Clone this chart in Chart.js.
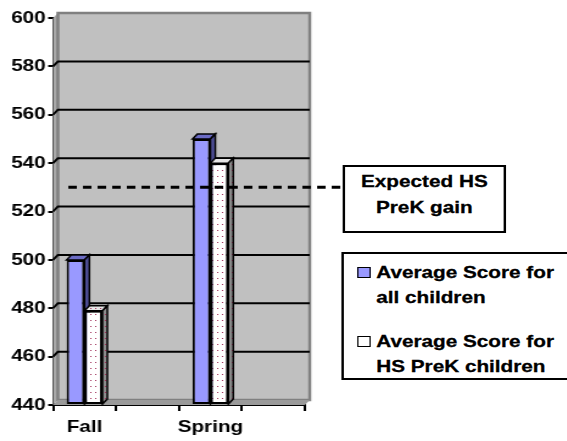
<!DOCTYPE html>
<html>
<head>
<meta charset="utf-8">
<script src="https://cdn.jsdelivr.net/npm/chart.js@4/dist/chart.umd.min.js"></script>
<style>
  html, body { margin: 0; padding: 0; background: #fff; overflow: hidden; }
  /* the original picture is stretched sideways, so draw narrow and widen */
  #wrap { position: relative; width: 465px; height: 441px; transform: scaleX(1.2194); transform-origin: 0 0;
          font-family: "Liberation Sans", Arial, sans-serif; font-weight: bold; color: #000; }
  #note { position: absolute; left: 281px; top: 165px; width: 130px; height: 62px; border: 2px solid #000; background: #fff;
          font-size: 17px; line-height: 26px; text-align: center; padding-top: 2px; -webkit-text-stroke: 0.3px #000; }
  #legend { position: absolute; left: 279.5px; top: 252px; width: 200px; height: 124px; border: 2px solid #000; background: #fff; }
  .item { position: absolute; left: 27px; font-size: 17px; line-height: 25px; white-space: nowrap; -webkit-text-stroke: 0.3px #000; }
  .box { position: absolute; left: -16px; top: 7px; width: 9px; height: 9px; border: 1.5px solid #000; }
</style>
</head>
<body>
<div id="wrap">
  <canvas id="chart"></canvas>
  <div id="note">Expected HS<br>PreK gain</div>
  <div id="legend">
    <div class="item" style="top:6px"><span class="box" style="background:#9999ff"></span>Average Score for<br>all children</div>
    <div class="item" style="top:75px"><span class="box" id="box2" style="background:#fff"></span>Average Score for<br>HS PreK children</div>
  </div>
</div>
<script>
const seasons = ['Fall', '', 'Spring', ''];
const allChildren = [500, null, 550, null];
const hsPrekChildren = [479, null, 540, null];
const expectedGain = 530;
const yTicks = [440, 460, 480, 500, 520, 540, 560, 580, 600];

// little dotted fill for the HS PreK bars
function dots(bg) {
  const c = document.createElement('canvas');
  c.width = 4; c.height = 6;
  const g = c.getContext('2d');
  g.fillStyle = bg;
  g.fillRect(0, 0, 4, 6);
  g.fillStyle = '#a0305a';
  g.fillRect(2, 2, 1, 1);
  return g.createPattern(c, 'repeat');
}
const whiteDots = dots('#ffffff');
const greyDots = dots('#8c8c8c');
const topDots = dots('#e6e6e6');

const DX = 4, DY = 5; // depth of the fake 3d

const wallPlugin = {
  id: 'wall',
  beforeDatasetsDraw(chart) {
    const { ctx, chartArea: a, scales: { y } } = chart;
    ctx.save();
    // left side wall
    ctx.fillStyle = '#a8a8a8';
    ctx.beginPath();
    ctx.moveTo(a.left, a.top); ctx.lineTo(a.left + DX, a.top - DY);
    ctx.lineTo(a.left + DX, a.bottom - DY); ctx.lineTo(a.left, a.bottom);
    ctx.closePath(); ctx.fill();
    // back wall
    ctx.fillStyle = '#c0c0c0';
    ctx.fillRect(a.left + DX, a.top - DY, a.right - a.left, a.bottom - a.top);
    ctx.strokeStyle = '#808080';
    ctx.lineWidth = 2.5;
    ctx.strokeRect(a.left + DX, a.top - DY, a.right - a.left, a.bottom - a.top);
    // floor
    ctx.fillStyle = '#9a9a9a';
    ctx.beginPath();
    ctx.moveTo(a.left, a.bottom); ctx.lineTo(a.left + DX, a.bottom - DY);
    ctx.lineTo(a.right + DX, a.bottom - DY); ctx.lineTo(a.right, a.bottom);
    ctx.closePath(); ctx.fill();
    // grid lines on the walls
    ctx.strokeStyle = '#000';
    ctx.lineWidth = 2;
    yTicks.slice(1, -1).forEach(v => {
      const py = y.getPixelForValue(v);
      ctx.beginPath();
      ctx.moveTo(a.left, py); ctx.lineTo(a.left + DX, py - DY);
      ctx.lineTo(a.right + DX, py - DY);
      ctx.stroke();
    });
    // top and side faces of the bars
    const tops = ['#6b6bc4', topDots];
    const sides = ['#50509a', greyDots];
    chart.data.datasets.forEach((ds, i) => {
      chart.getDatasetMeta(i).data.forEach((bar, j) => {
        if (ds.data[j] == null) return;
        const l = bar.x - bar.width / 2, r = bar.x + bar.width / 2;
        ctx.lineWidth = 1.5;
        ctx.strokeStyle = '#000';
        ctx.fillStyle = tops[i];
        ctx.beginPath();
        ctx.moveTo(l, bar.y); ctx.lineTo(l + DX, bar.y - DY);
        ctx.lineTo(r + DX, bar.y - DY); ctx.lineTo(r, bar.y);
        ctx.closePath(); ctx.fill(); ctx.stroke();
        ctx.fillStyle = sides[i];
        ctx.beginPath();
        ctx.moveTo(r, bar.y); ctx.lineTo(r + DX, bar.y - DY);
        ctx.lineTo(r + DX, bar.base - DY); ctx.lineTo(r, bar.base);
        ctx.closePath(); ctx.fill(); ctx.stroke();
      });
    });
    ctx.restore();
  },
  afterDatasetsDraw(chart) {
    const { ctx, scales: { y } } = chart;
    const py = y.getPixelForValue(expectedGain);
    ctx.save();
    ctx.strokeStyle = '#000';
    ctx.lineWidth = 3;
    ctx.setLineDash([7, 5]);
    ctx.beginPath();
    ctx.moveTo(56, py);
    ctx.lineTo(281, py);
    ctx.stroke();
    ctx.restore();
  }
};

const tickFont = { family: 'Liberation Sans', size: 17, weight: 'bold' };

new Chart(document.getElementById('chart'), {
  type: 'bar',
  data: {
    labels: seasons,
    datasets: [{
      label: 'Average Score for all children',
      data: allChildren,
      backgroundColor: '#9999ff',
      borderColor: '#000',
      borderWidth: 2,
      borderSkipped: false,
      base: yTicks[0],
      categoryPercentage: 0.57,
      barPercentage: 1.0
    }, {
      label: 'Average Score for HS PreK children',
      data: hsPrekChildren,
      backgroundColor: whiteDots,
      borderColor: '#000',
      borderWidth: 2,
      borderSkipped: false,
      base: yTicks[0],
      categoryPercentage: 0.57,
      barPercentage: 1.0
    }]
  },
  options: {
    responsive: true,
    maintainAspectRatio: false,
    animation: false,
    layout: { padding: { top: 18, right: 215, left: 0, bottom: 0 } },
    plugins: { legend: { display: false }, tooltip: { enabled: false } },
    scales: {
      x: {
        afterFit: s => { s.height = 36; },
        grid: { offset: true, drawOnChartArea: false, color: '#000', lineWidth: 2, tickLength: 6 },
        border: { color: '#000', width: 2 },
        ticks: { color: '#000', font: tickFont, padding: 6, autoSkip: false, maxRotation: 0, minRotation: 0 }
      },
      y: {
        min: yTicks[0],
        max: yTicks[yTicks.length - 1],
        afterFit: s => { s.width = 43.5; },
        grid: { drawOnChartArea: false, color: '#000', lineWidth: 2, tickLength: 4 },
        border: { color: '#000', width: 2 },
        ticks: { stepSize: 20, color: '#000', font: tickFont, padding: 2 }
      }
    }
  },
  plugins: [wallPlugin]
});
</script>
</body>
</html>
